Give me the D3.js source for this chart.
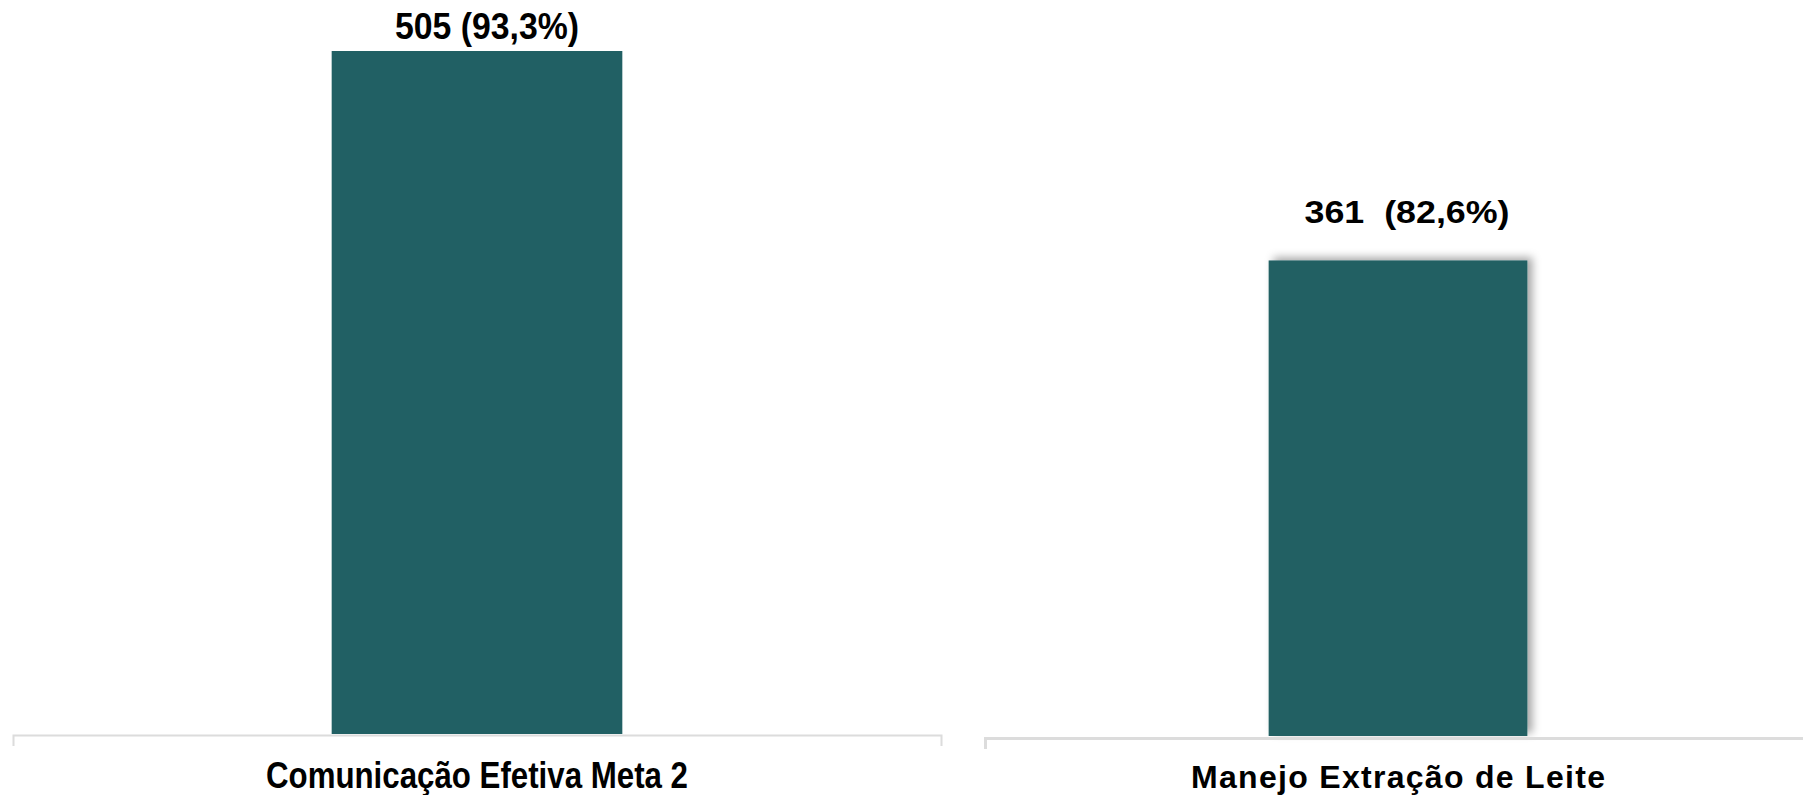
<!DOCTYPE html>
<html>
<head>
<meta charset="utf-8">
<script src="https://cdn.jsdelivr.net/npm/d3@7"></script>
<style>
  html, body { margin: 0; padding: 0; background: #fff; }
  svg { display: block; }
  text { font-family: "Liberation Sans", Arial, sans-serif; font-weight: bold; fill: #000; }
</style>
</head>
<body>
<svg id="chart" width="1803" height="795"></svg>
<script>
// ---- data ----
const categories = ["Comunicação Efetiva Meta 2", "Manejo Extração de Leite"];
const counts = [505, 361];
const percents = ["93,3%", "82,6%"];
const valueLabels = ["505 (93,3%)", "361  (82,6%)"];
const domainMax = [505, 520];

// ---- layout (per panel) ----
const panels = [
  { x0: 13, x1: 941, base: 734, axisY: 735, top: 51, labelGap: 12, labelDx: 10,
    valFont: 37, valLen: 184, valAdjust: "spacingAndGlyphs",
    catFont: 36, catLen: 422, catAdjust: "spacingAndGlyphs", axisW: 2, shadow: false },
  { x0: 985, x1: 1811, base: 736, axisY: 738, top: 51, labelGap: 37, labelDx: 9,
    valFont: 32, valLen: 205, valAdjust: "spacingAndGlyphs",
    catFont: 32, catLen: 414, catAdjust: "spacing", axisW: 3, shadow: true }
];

const barColor = "#216064";
const svg = d3.select("#chart");

const defs = svg.append("defs");
const f = defs.append("filter").attr("id", "shadow")
  .attr("x", "-10%").attr("y", "-10%").attr("width", "130%").attr("height", "130%");
f.append("feDropShadow").attr("dx", 5).attr("dy", -3)
  .attr("stdDeviation", 4).attr("flood-color", "#000").attr("flood-opacity", 0.35);

panels.forEach((p, i) => {
  const g = svg.append("g");
  const x = d3.scaleBand().domain([categories[i]]).range([p.x0, p.x1]).padding(0.523);
  const y = d3.scaleLinear().domain([0, domainMax[i]]).range([p.base, p.top]);

  // bar
  g.append("rect")
    .attr("x", x(categories[i]))
    .attr("y", y(counts[i]))
    .attr("width", x.bandwidth())
    .attr("height", y(0) - y(counts[i]))
    .attr("fill", barColor)
    .attr("filter", p.shadow ? "url(#shadow)" : null);

  // value label
  g.append("text")
    .attr("x", x(categories[i]) + x.bandwidth() / 2 + p.labelDx)
    .attr("y", y(counts[i]) - p.labelGap)
    .attr("text-anchor", "middle")
    .attr("font-size", p.valFont)
    .attr("textLength", p.valLen)
    .attr("lengthAdjust", p.valAdjust)
    .style("white-space", "pre")
    .text(valueLabels[i]);

  // axis
  const ax = g.append("g")
    .attr("transform", `translate(0,${p.axisY})`)
    .call(d3.axisBottom(x).tickSizeInner(0).tickSizeOuter(11).tickPadding(27));
  ax.select(".domain").attr("stroke", "#dcdcdc").attr("stroke-width", p.axisW);
  ax.selectAll(".tick line").remove();
  ax.selectAll(".tick text")
    .attr("font-size", p.catFont)
    .attr("font-family", "'Liberation Sans', Arial, sans-serif")
    .attr("font-weight", "bold")
    .attr("fill", "#000")
    .attr("textLength", p.catLen)
    .attr("lengthAdjust", p.catAdjust);
});
</script>
</body>
</html>
